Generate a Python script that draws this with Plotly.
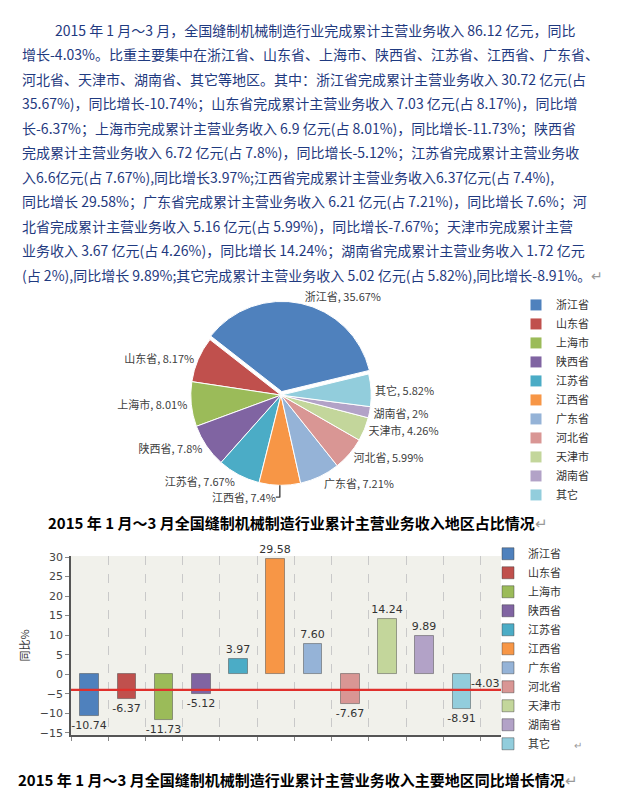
import plotly.graph_objects as go

# ---------------- data ----------------
regions = ["浙江省", "山东省", "上海市", "陕西省", "江苏省", "江西省",
           "广东省", "河北省", "天津市", "湖南省", "其它"]
share_pct = [35.67, 8.17, 8.01, 7.8, 7.67, 7.4, 7.21, 5.99, 4.26, 2, 5.82]
growth_pct = [-10.74, -6.37, -11.73, -5.12, 3.97, 29.58, 7.60, -7.67, 14.24, 9.89, -8.91]
total_growth = -4.03
y_ticks = [-15, -10, -5, 0, 5, 10, 15, 20, 25, 30]

paragraph_lines = [
    "2015 年 1 月～3 月，全国缝制机械制造行业完成累计主营业务收入 86.12 亿元，同比",
    "增长-4.03%。比重主要集中在浙江省、山东省、上海市、陕西省、江苏省、江西省、广东省、",
    "河北省、天津市、湖南省、其它等地区。其中：浙江省完成累计主营业务收入 30.72 亿元(占",
    "35.67%)，同比增长-10.74%；山东省完成累计主营业务收入 7.03 亿元(占 8.17%)，同比增",
    "长-6.37%；上海市完成累计主营业务收入 6.9 亿元(占 8.01%)，同比增长-11.73%；陕西省",
    "完成累计主营业务收入 6.72 亿元(占 7.8%)，同比增长-5.12%；江苏省完成累计主营业务收",
    "入6.6亿元(占 7.67%),同比增长3.97%;江西省完成累计主营业务收入6.37亿元(占 7.4%),",
    "同比增长 29.58%；广东省完成累计主营业务收入 6.21 亿元(占 7.21%)，同比增长 7.6%；河",
    "北省完成累计主营业务收入 5.16 亿元(占 5.99%)，同比增长-7.67%；天津市完成累计主营",
    "业务收入 3.67 亿元(占 4.26%)，同比增长 14.24%；湖南省完成累计主营业务收入 1.72 亿元",
    "(占 2%),同比增长 9.89%;其它完成累计主营业务收入 5.02 亿元(占 5.82%),同比增长-8.91%。",
]
caption_pie = "2015 年 1 月～3 月全国缝制机械制造行业累计主营业务收入地区占比情况"
caption_bar = "2015 年 1 月～3 月全国缝制机械制造行业累计主营业务收入主要地区同比增长情况"
y_title = "同比%"

colors = ["#4F81BD", "#C0504D", "#9BBB59", "#8064A2", "#4BACC6", "#F79646",
          "#95B3D7", "#D99694", "#C3D69B", "#B2A2C7", "#92CDDC"]

W, H = 618, 792
CJK = "Noto Sans CJK SC"


def px_x(v):
    return v / W


def px_y(v):
    return 1 - v / H


fig = go.Figure()

# ---------------- pie ----------------
fig.add_trace(go.Pie(
    labels=regions, values=share_pct, sort=False, direction="counterclockwise",
    rotation=308,
    marker=dict(colors=colors, line=dict(color="white", width=1)),
    pull=[0.04] + [0] * (len(regions) - 1),
    textposition="outside", texttemplate="%{label}, %{value}%",
    textfont=dict(family=CJK, size=11, color="#404040"),
    domain=dict(x=[px_x(178), px_x(368)], y=[px_y(482), px_y(292)]),
    legend="legend", hoverinfo="label+value",
))

# ---------------- bars ----------------
for i, (name, val) in enumerate(zip(regions, growth_pct)):
    fig.add_trace(go.Bar(
        x=[i], y=[val], name=name, width=0.5,
        marker=dict(color=colors[i], line=dict(color="rgba(60,60,60,0.45)", width=1)),
        texttemplate="%{y:.2f}", textposition="outside", constraintext="none",
        textfont=dict(family="DejaVu Sans", size=11, color="#333333"),
        cliponaxis=False, legend="legend2", showlegend=True,
    ))

n = len(regions)
fig.update_layout(
    width=W, height=H, margin=dict(l=0, r=0, t=0, b=0),
    paper_bgcolor="white", plot_bgcolor="#F1F1EB",
    barmode="overlay", bargap=0,
    font=dict(family=CJK, color="#333333"),
    xaxis=dict(domain=[px_x(63), px_x(493)], range=[-0.5, n + 0.05],
               tickvals=[i - 0.5 for i in range(n + 1)], showticklabels=False,
               showgrid=True, gridcolor="#C9C9C9", griddash="dash", gridwidth=1,
               ticks="outside", ticklen=4, tickcolor="#888888",
               showline=True, linecolor="#555555", linewidth=1.5, zeroline=False,
               fixedrange=True),
    yaxis=dict(domain=[px_y(731), px_y(550)], range=[-15.5, 30.25],
               tickvals=y_ticks, showgrid=False, zeroline=False,
               ticks="outside", ticklen=4, tickcolor="#888888",
               showline=True, linecolor="#555555", linewidth=1.5,
               tickfont=dict(family="DejaVu Sans", size=11, color="#444444"),
               title=dict(text=y_title, font=dict(family=CJK, size=11, color="#333333"),
                          standoff=8),
               fixedrange=True),
    legend=dict(x=px_x(508), y=px_y(281), xanchor="left", yanchor="top",
                font=dict(family=CJK, size=11, color="#333333"),
                bgcolor="rgba(0,0,0,0)", traceorder="normal"),
    legend2=dict(x=px_x(480), y=px_y(533), xanchor="left", yanchor="top",
                 font=dict(family=CJK, size=11, color="#333333"),
                 bgcolor="rgba(0,0,0,0)", traceorder="normal"),
    showlegend=True,
)

# average growth reference line
fig.add_shape(type="line", xref="x domain", yref="y", x0=0, x1=1,
              y0=total_growth, y1=total_growth,
              line=dict(color="#E0302C", width=2.2))
fig.add_annotation(xref="x domain", yref="y", x=1, y=total_growth,
                   xanchor="right", yanchor="bottom", yshift=-2,
                   text=f"{total_growth:.2f}", showarrow=False,
                   font=dict(family="DejaVu Sans", size=11, color="#333333"))

# paragraph text
line_y0, line_dy = 17, 24.8
for k, line in enumerate(paragraph_lines):
    fig.add_annotation(xref="paper", yref="paper",
                       x=px_x(45 if k == 0 else 12), y=px_y(line_y0 + k * line_dy),
                       xanchor="left", yanchor="middle", showarrow=False,
                       text=line + ('<span style="color:#999999">↵</span>' if k == len(paragraph_lines) - 1 else ""),
                       font=dict(family=CJK, size=14, color="#1F3A80"))

# captions
for cap, cy in [(caption_pie, 516), (caption_bar, 776)]:
    fig.add_annotation(xref="paper", yref="paper", x=px_x(290), y=px_y(cy),
                       xanchor="center", yanchor="middle", showarrow=False,
                       text="<b>" + cap + "</b>" + '<span style="color:#999999">↵</span>',
                       font=dict(family=CJK, size=15, color="#000000"))
fig.add_annotation(xref="paper", yref="paper", x=px_x(570), y=px_y(741),
                   xanchor="center", yanchor="middle", showarrow=False,
                   text="↵", font=dict(family=CJK, size=10, color="#999999"))

fig.write_html("out.html")
